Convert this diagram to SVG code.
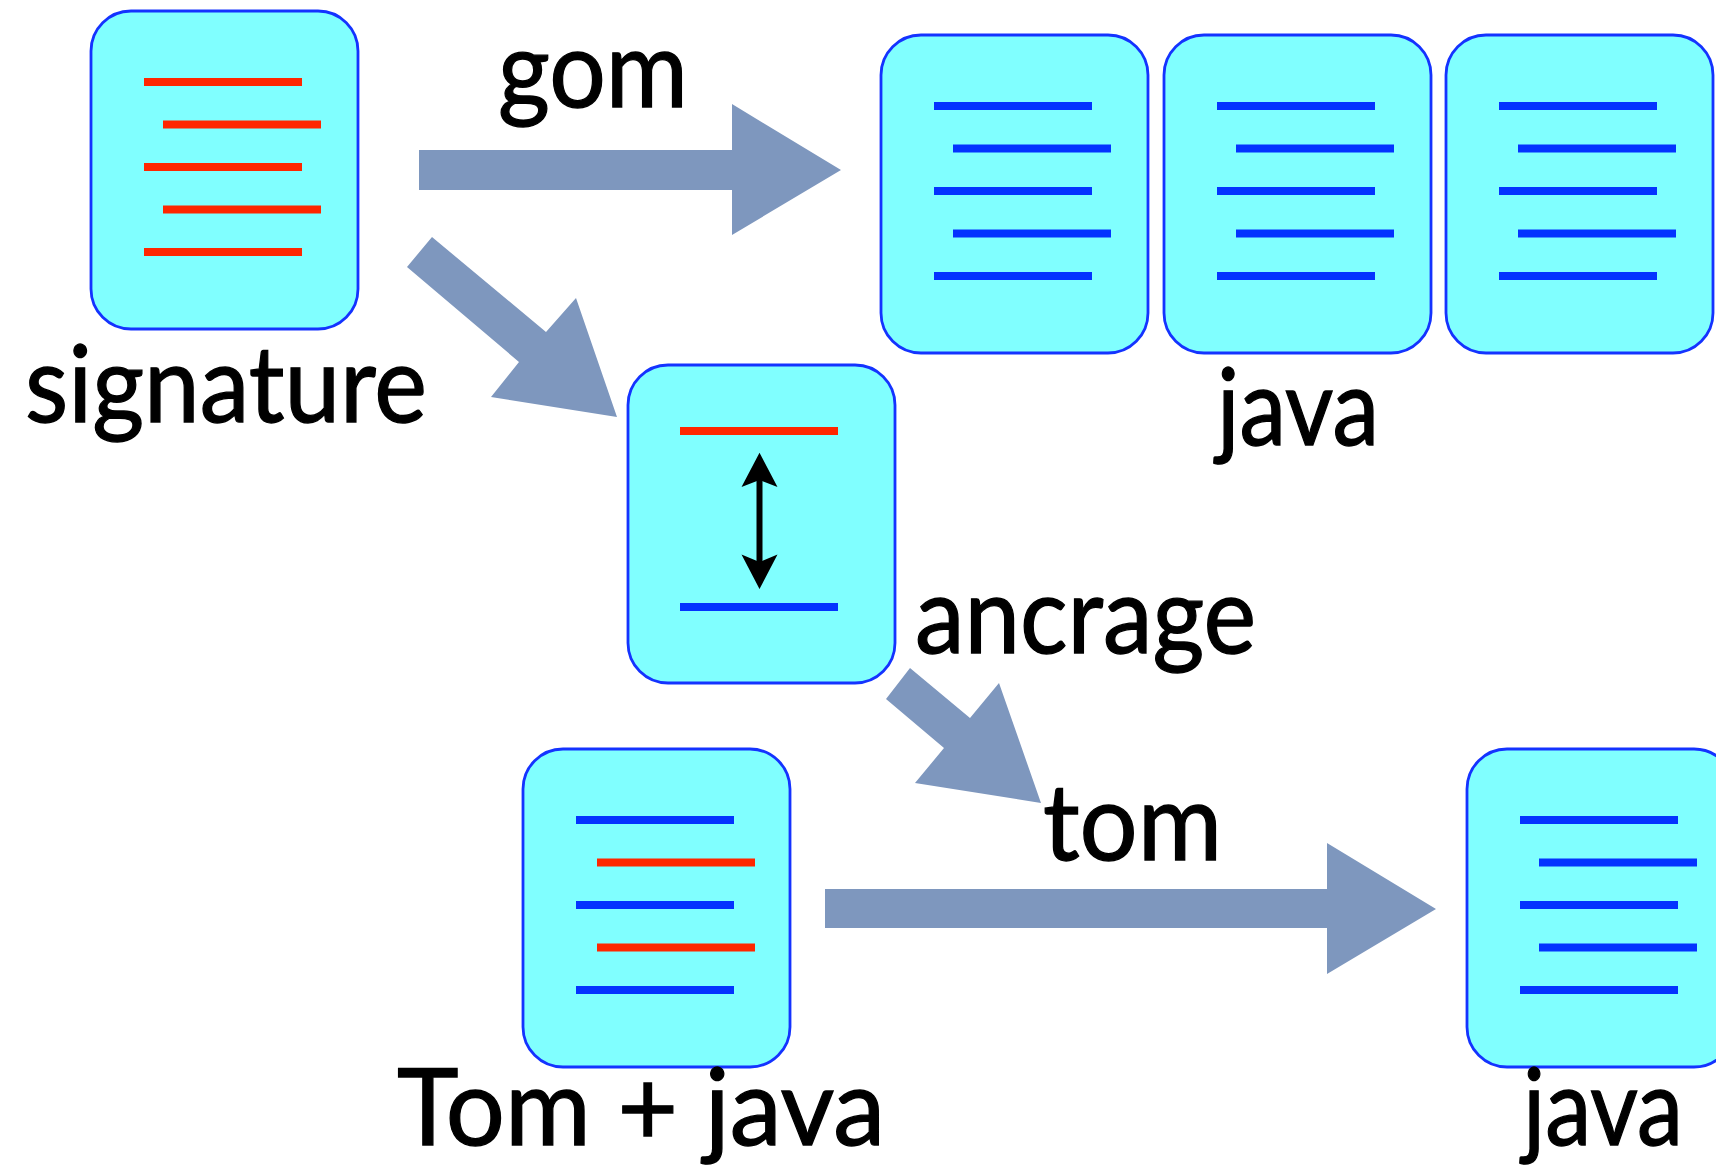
<svg xmlns="http://www.w3.org/2000/svg" xmlns:xlink="http://www.w3.org/1999/xlink" width="1716" height="1166" viewBox="0 0 1716 1166">
<style>
.box{fill:#80ffff;stroke:#1433ff;stroke-width:2.8}
.r{fill:#ff2600}
.b{fill:#0433ff}
.lbl{font-family:"Lato","Open Sans","Liberation Sans",sans-serif;font-size:106px;fill:#000;stroke:#000;stroke-width:1.3}
.conn{fill:#7e97be}
</style>
<defs>
<rect id="frame" class="box" x="0" y="0" width="267" height="318" rx="40" ry="40"/>
<g id="docBlue">
<use xlink:href="#frame"/>
<rect class="b" x="53" y="67" width="158" height="8"/>
<rect class="b" x="72" y="109.5" width="158" height="8"/>
<rect class="b" x="53" y="152" width="158" height="8"/>
<rect class="b" x="72" y="194.5" width="158" height="8"/>
<rect class="b" x="53" y="237" width="158" height="8"/>
</g>
<g id="docRed">
<use xlink:href="#frame"/>
<rect class="r" x="53" y="67" width="158" height="8"/>
<rect class="r" x="72" y="109.5" width="158" height="8"/>
<rect class="r" x="53" y="152" width="158" height="8"/>
<rect class="r" x="72" y="194.5" width="158" height="8"/>
<rect class="r" x="53" y="237" width="158" height="8"/>
</g>
</defs>
<rect width="1716" height="1166" fill="#fff"/>

<g id="connectors">
<polygon class="conn" points="419,150 732,150 732,104 841,170 732,235 732,190 419,190"/>
<polygon class="conn" points="432,237 546,332 576,298 617,417 491,397 519,362 407,267"/>
<polygon class="conn" points="910,668 970,718 999,683 1041,803 915,783 944,748 886,699"/>
<polygon class="conn" points="825,889 1327,889 1327,843 1436,909 1327,974 1327,928 825,928"/>
</g>

<g id="node-signature">
<use xlink:href="#docRed" transform="translate(91,11)"/>
<text class="lbl" x="25" y="422" textLength="402" lengthAdjust="spacingAndGlyphs">signature</text>
</g>

<g id="node-java-top">
<use xlink:href="#docBlue" transform="translate(881,35)"/>
<use xlink:href="#docBlue" transform="translate(1164,35)"/>
<use xlink:href="#docBlue" transform="translate(1446,35)"/>
<text class="lbl" x="1217" y="445" textLength="162" lengthAdjust="spacingAndGlyphs">java</text>
</g>

<g id="node-ancrage">
<g transform="translate(628,365)">
<use xlink:href="#frame"/>
<rect class="r" x="52" y="62" width="158" height="8"/>
<rect class="b" x="52" y="238" width="158" height="8"/>
<line x1="131.5" y1="110" x2="131.5" y2="200" stroke="#000" stroke-width="6"/>
<path d="M131.5,87.7 L149.5,122 L131.5,115 L113.5,122 Z" fill="#000"/>
<path d="M131.5,224 L149.5,189.5 L131.5,197 L113.5,189.5 Z" fill="#000"/>
</g>
<text class="lbl" x="915" y="653" textLength="341" lengthAdjust="spacingAndGlyphs">ancrage</text>
</g>

<g id="label-gom">
<text class="lbl" x="498" y="107" textLength="190" lengthAdjust="spacingAndGlyphs">gom</text>
</g>
<g id="label-tom">
<text class="lbl" x="1043" y="860" textLength="179" lengthAdjust="spacingAndGlyphs">tom</text>
</g>

<g id="node-tomjava">
<g transform="translate(523,749)">
<use xlink:href="#frame"/>
<rect class="b" x="53" y="67" width="158" height="8"/>
<rect class="r" x="74" y="109.5" width="158" height="8"/>
<rect class="b" x="53" y="152" width="158" height="8"/>
<rect class="r" x="74" y="194.5" width="158" height="8"/>
<rect class="b" x="53" y="237" width="158" height="8"/>
</g>
<text class="lbl" x="397" y="1145" textLength="488" lengthAdjust="spacingAndGlyphs">Tom + java</text>
</g>

<g id="node-java-out">
<use xlink:href="#docBlue" transform="translate(1467,749)"/>
<text class="lbl" x="1523" y="1145" textLength="160" lengthAdjust="spacingAndGlyphs">java</text>
</g>
</svg>
